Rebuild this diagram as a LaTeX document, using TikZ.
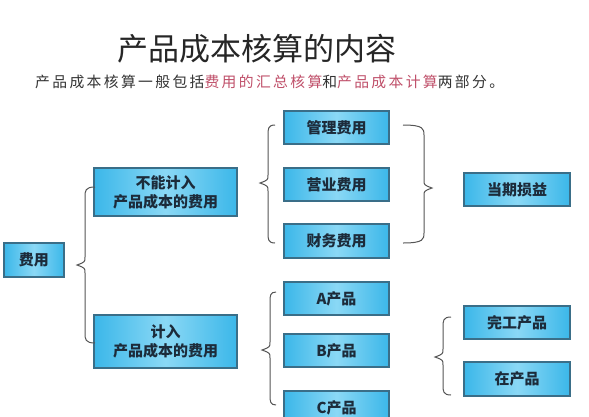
\documentclass[tikz,border=0pt]{standalone}
\usepackage{fontspec}
\setmainfont{Noto Sans CJK SC}
\newfontfamily\cjk{Noto Sans CJK SC}
\newfontfamily\cjksp[LetterSpace=16]{Noto Sans CJK SC}
\definecolor{boxedge}{HTML}{3A6E88}
\definecolor{boxside}{HTML}{3BB7E9}
\definecolor{boxmid}{HTML}{8AD8F5}
\definecolor{boxtext}{HTML}{1C2B3A}
\definecolor{brace}{HTML}{555555}
\definecolor{hl}{HTML}{C0506A}
\begin{document}
\begin{tikzpicture}[x=1pt,y=-1pt,
  box/.style={draw=boxedge,line width=1.1pt,left color=boxside,right color=boxside,middle color=boxmid,
    inner sep=0pt,align=center,text=boxtext,font=\cjk\bfseries\fontsize{15}{19}\selectfont},
  brc/.style={draw=brace,line width=1pt}]
\useasboundingbox (0,0) rectangle (589,416);
\fill[white] (0,0) rectangle (589,416);
% title
\node[font=\cjk\fontsize{31}{34}\selectfont,text=black!85] (title) at (256.5,48.5) {产品成本核算的内容};
\node[anchor=west,inner sep=0pt,font=\cjksp\fontsize{14.8}{16}\selectfont,text=black!80] (sub) at (35,81.5)
  {产品成本核算一般包括\textcolor{hl}{费用的汇总核算}和\textcolor{hl}{产品成本计算}两部分。};
% boxes (x1,y1)-(x2,y2)
\newcommand\mybox[6]{\node[box,minimum width=#4-#2,minimum height=#5-#3] (#1) at ({(#2+#4)/2},{(#3+#5)/2}) {#6};}
\mybox{fy}{4}{243}{64}{277}{费用}
\mybox{bn}{94}{168}{237}{216}{不能计入\\产品成本的费用}
\mybox{jr}{94}{315}{237}{368}{计入\\产品成本的费用}
\mybox{gl}{284}{111}{389}{144}{管理费用}
\mybox{yy}{284}{168}{389}{201}{营业费用}
\mybox{cw}{284}{224}{389}{258}{财务费用}
\mybox{dq}{464}{173}{570}{206}{当期损益}
\mybox{ap}{284}{282}{389}{315}{A产品}
\mybox{bp}{284}{334}{389}{367}{B产品}
\mybox{cp}{284}{391}{389}{424}{C产品}
\mybox{wg}{464}{306}{570}{339}{完工产品}
\mybox{zc}{464}{362}{570}{396}{在产品}
% braces
\newcommand\lbrc[5]{%
  \draw[brc] (#1,#3) .. controls (#2,#3) and (#2,#3+4) .. (#2,#3+10)
    -- (#2,#4-8) .. controls (#2,#4-3) .. (#2-8,#4) .. controls (#2,#4+3) .. (#2,#4+8)
    -- (#2,#5-10) .. controls (#2,#5-4) and (#2,#5) .. (#1,#5);}
\newcommand\rbrc[5]{%
  \draw[brc] (#1,#3) .. controls (#2,#3) and (#2,#3+4) .. (#2,#3+10)
    -- (#2,#4-8) .. controls (#2,#4-3) .. (#2+8,#4) .. controls (#2,#4+3) .. (#2,#4+8)
    -- (#2,#5-10) .. controls (#2,#5-4) and (#2,#5) .. (#1,#5);}
\lbrc{95}{85}{187}{265}{343}
\lbrc{275}{268}{125}{183}{243}
\rbrc{403}{424}{125}{188}{243}
\lbrc{276}{270}{292}{350}{405}
\lbrc{451}{443}{317}{357}{395}
\end{tikzpicture}
\end{document}
